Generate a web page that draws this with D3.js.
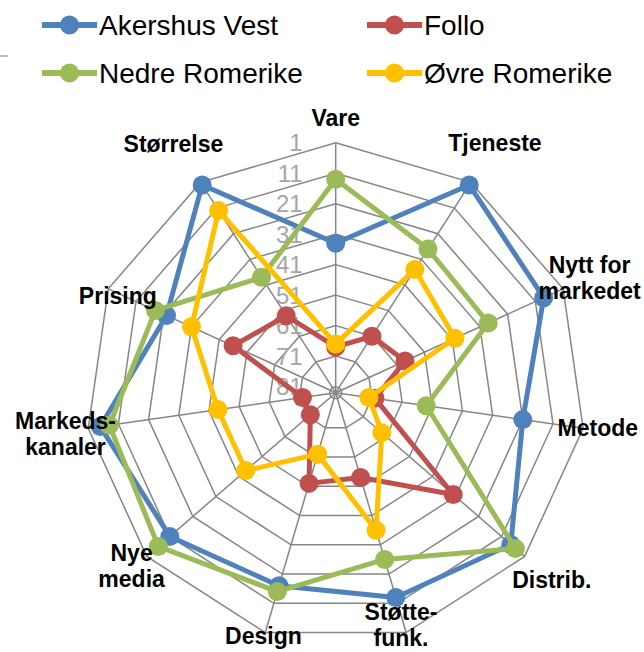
<!DOCTYPE html>
<html>
<head>
<meta charset="utf-8">
<script src="https://cdn.jsdelivr.net/npm/d3@7"></script>
<style>
  html, body { margin: 0; padding: 0; background: #fff; }
  svg { display: block; }
</style>
</head>
<body>
<script>
// Innovation profile per region: rank on each dimension (1 = best)
const categories = ["Vare", "Tjeneste", "Nytt for markedet", "Metode", "Distrib.", "Støtte-funk.",
                    "Design", "Nye media", "Markeds-kanaler", "Prising", "Størrelse"];
const categoryLines = [["Vare"], ["Tjeneste"], ["Nytt for", "markedet"], ["Metode"], ["Distrib."],
                       ["Støtte-", "funk."], ["Design"], ["Nye", "media"], ["Markeds-", "kanaler"],
                       ["Prising"], ["Størrelse"]];
const seriesNames = ["Akershus Vest", "Follo", "Nedre Romerike", "Øvre Romerike"];
const akershusVest  = [34, 2, 8, 21, 7, 13, 17, 11, 5, 22, 2];
const follo         = [68, 61, 58, 70, 32, 54, 52, 72, 72, 46, 53];
const nedreRomerike = [13, 27, 28, 53, 5, 26, 15, 6, 8, 18, 38];
const ovreRomerike  = [67, 35, 40, 72, 63, 36, 62, 44, 44, 31, 12];
const tickValues = [1, 11, 21, 31, 41, 51, 61, 71, 81];
const axisMin = 1, axisMax = 83;

const W = 644, H = 652;
const cx = 335.7, cy = 392.7, R = 250;
const colors = ["#4F81BD", "#C0504D", "#9BBB59", "#FFC000"];
const seriesValues = [akershusVest, follo, nedreRomerike, ovreRomerike];

const svg = d3.select("body").append("svg")
  .attr("width", W).attr("height", H)
  .style("font-family", "'Liberation Sans', Arial, sans-serif");

// reversed radial axis: best rank on the rim
const r = d3.scaleLinear().domain([axisMin, axisMax]).range([R, 0]);
const n = categories.length;
const angle = d3.scaleLinear().domain([0, n]).range([0, 2 * Math.PI]);

const g = svg.append("g").attr("transform", `translate(${cx},${cy})`);

const ring = d3.lineRadial()
  .angle((d, i) => angle(i))
  .radius(d => r(d))
  .curve(d3.curveLinearClosed);

// grid rings
g.append("g").selectAll("path")
  .data(tickValues)
  .join("path")
  .attr("d", t => ring(categories.map(() => t)))
  .attr("fill", "none")
  .attr("stroke", "#868686")
  .attr("stroke-width", 1.5);

// spokes
g.append("g").selectAll("line")
  .data(categories)
  .join("line")
  .attr("x1", 0).attr("y1", 0)
  .attr("x2", (d, i) => r(axisMin) * Math.sin(angle(i)))
  .attr("y2", (d, i) => -r(axisMin) * Math.cos(angle(i)))
  .attr("stroke", "#868686")
  .attr("stroke-width", 1.5);

// tick labels on the vertical axis
g.append("g").selectAll("text")
  .data(tickValues)
  .join("text")
  .attr("x", -33)
  .attr("y", t => -r(t))
  .attr("dy", "0.36em")
  .attr("text-anchor", "end")
  .attr("fill", "#A6A6A6")
  .attr("font-size", 24)
  .text(t => t);

// series lines and markers
const seriesLine = d3.lineRadial()
  .angle((d, i) => angle(i))
  .radius(d => r(d))
  .curve(d3.curveLinearClosed);

seriesValues.forEach((vals, s) => {
  const sg = g.append("g");
  sg.append("path")
    .attr("d", seriesLine(vals))
    .attr("fill", "none")
    .attr("stroke", colors[s])
    .attr("stroke-width", 5)
    .attr("stroke-linejoin", "round");
  sg.selectAll("circle")
    .data(vals)
    .join("circle")
    .attr("cx", (d, i) => r(d) * Math.sin(angle(i)))
    .attr("cy", (d, i) => -r(d) * Math.cos(angle(i)))
    .attr("r", 9.5)
    .attr("fill", colors[s]);
});

// category labels: polar anchor plus a small nudge to keep them in frame
const labelRadius = R + 28;
const nudges = [[0, 3], [9, -16], [1, 1], [-13, -4], [6, 5], [-13, -34],
                [6, -23], [6, -9], [5, 2], [35, 19], [-12, -15]];
const lineGap = 26;
g.append("g").selectAll("text")
  .data(categoryLines)
  .join("text")
  .attr("text-anchor", "middle")
  .attr("font-size", 23)
  .attr("font-weight", "bold")
  .attr("fill", "#000")
  .each(function (lines, i) {
    const x = labelRadius * Math.sin(angle(i)) + nudges[i][0];
    const y = -labelRadius * Math.cos(angle(i)) + nudges[i][1];
    const top = y - (lines.length - 1) * lineGap / 2;
    d3.select(this).selectAll("tspan")
      .data(lines)
      .join("tspan")
      .attr("x", x)
      .attr("y", (l, k) => top + k * lineGap)
      .attr("dy", "0.35em")
      .text(l => l);
  });

// legend, two columns by two rows
const legendCols = [42, 367];
const legendRows = [25, 73];
const legend = svg.append("g");
seriesNames.forEach((name, s) => {
  const x = legendCols[s % 2], y = legendRows[Math.floor(s / 2)];
  const item = legend.append("g").attr("transform", `translate(${x},${y})`);
  item.append("line")
    .attr("x1", 0).attr("x2", 55).attr("y1", 0).attr("y2", 0)
    .attr("stroke", colors[s]).attr("stroke-width", 6);
  item.append("circle").attr("cx", 27.5).attr("cy", 0).attr("r", 9.5).attr("fill", colors[s]);
  item.append("text")
    .attr("x", 57).attr("y", 0).attr("dy", "0.36em")
    .attr("font-size", 28)
    .attr("fill", "#000")
    .text(name);
});

// short frame tick at the left edge
svg.append("line")
  .attr("x1", 0).attr("x2", 8).attr("y1", 56).attr("y2", 56)
  .attr("stroke", "#A6A6A6").attr("stroke-width", 1.5);
</script>
</body>
</html>
